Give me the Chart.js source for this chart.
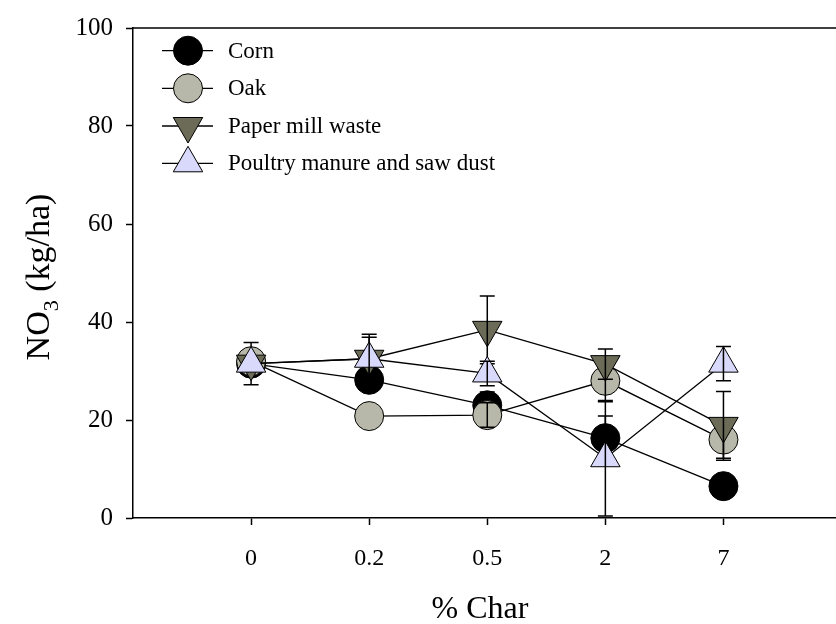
<!DOCTYPE html>
<html>
<head>
<meta charset="utf-8">
<script src="https://cdn.jsdelivr.net/npm/chart.js@4/dist/chart.umd.min.js"></script>
<style>
  html, body { margin: 0; padding: 0; background: #fff; overflow: hidden; }
  #wrap { width: 836px; height: 624px; overflow: hidden; }
  canvas { display: block; }
</style>
</head>
<body>
<div id="wrap"><canvas id="chart" width="856" height="624"></canvas></div>
<script>
// % char levels on the x axis
const charLevels = ['0', '0.2', '0.5', '2', '7'];

// NO3 (kg/ha) means
const corn = [31.5, 28.2, 23.0, 16.3, 6.5];
const oak = [32.0, 20.8, 21.0, 28.0, 16.0];
const paperMill = [31.5, 32.5, 38.4, 31.4, 18.8];
const poultry = [31.5, 32.5, 29.5, 12.2, 31.5];

// error bar half-lengths (0 = none visible)
const cornErr = [4.3, 0, 2.7, 4.5, 0];
const oakErr = [0, 0, 2.5, 4.3, 3.8];
const paperMillErr = [0, 5.0, 6.9, 3.1, 7.0];
const poultryErr = [0, 4.4, 2.5, 11.8, 3.5];

const yTicks = [0, 20, 40, 60, 80, 100];

const serif = '"Liberation Serif", "Times New Roman", serif';

function toPoints(values) {
  return values.map((v, i) => ({ x: i, y: v }));
}

function series(label, values, errors, fill, style, rotation, radius, order) {
  return {
    label: label,
    data: toPoints(values),
    errors: errors,
    borderColor: '#000',
    borderWidth: 1.3,
    pointStyle: style,
    pointRotation: rotation,
    pointRadius: radius,
    pointHoverRadius: radius,
    pointBackgroundColor: fill,
    pointBorderColor: '#000',
    pointBorderWidth: 1,
    showLine: true,
    fill: false,
    tension: 0,
    order: order
  };
}

// error bars, drawn right after each series
const errorBars = {
  id: 'errorBars',
  afterDatasetDraw(chart, args) {
    const ds = chart.data.datasets[args.index];
    if (!ds.errors) return;
    const ctx = chart.ctx;
    const yScale = chart.scales.y;
    const meta = args.meta;
    ctx.save();
    ctx.strokeStyle = '#000';
    ctx.lineWidth = 1.5;
    meta.data.forEach((pt, i) => {
      const e = ds.errors[i];
      if (!e) return;
      const v = ds.data[i].y;
      const top = yScale.getPixelForValue(v + e);
      const bot = yScale.getPixelForValue(Math.max(0, v - e));
      const x = pt.x;
      ctx.beginPath();
      ctx.moveTo(x, top);
      ctx.lineTo(x, bot);
      ctx.moveTo(x - 7.5, top);
      ctx.lineTo(x + 7.5, top);
      ctx.moveTo(x - 7.5, bot);
      ctx.lineTo(x + 7.5, bot);
      ctx.stroke();
    });
    ctx.restore();
  }
};

// titles, top frame line and legend
const decorations = {
  id: 'decorations',
  afterDraw(chart) {
    const ctx = chart.ctx;
    const area = chart.chartArea;
    ctx.save();

    // top frame
    ctx.strokeStyle = '#000';
    ctx.lineWidth = 1.5;
    ctx.beginPath();
    ctx.moveTo(area.left, area.top);
    ctx.lineTo(chart.width, area.top);
    ctx.stroke();

    // x title
    ctx.fillStyle = '#000';
    ctx.font = '32px ' + serif;
    ctx.textAlign = 'center';
    ctx.textBaseline = 'alphabetic';
    ctx.fillText('% Char', 480, 618);

    // y title with subscript
    ctx.translate(40, 277);
    ctx.rotate(-Math.PI / 2);
    const big = '34px ' + serif;
    const small = '22px ' + serif;
    ctx.font = big;
    const w1 = ctx.measureText('NO').width;
    const w3 = ctx.measureText(' (kg/ha)').width;
    ctx.font = small;
    const w2 = ctx.measureText('3').width;
    let x = -(w1 + w2 + w3) / 2;
    ctx.textAlign = 'left';
    ctx.textBaseline = 'middle';
    ctx.font = big;
    ctx.fillText('NO', x, 0);
    x += w1;
    ctx.font = small;
    ctx.fillText('3', x, 12);
    x += w2;
    ctx.font = big;
    ctx.fillText(' (kg/ha)', x, 0);
    ctx.restore();

    // legend
    ctx.save();
    const rows = [50.7, 88.3, 126, 163.3];
    chart.data.datasets.forEach((ds, i) => {
      const y = rows[i];
      ctx.strokeStyle = '#000';
      ctx.lineWidth = 1.3;
      ctx.beginPath();
      ctx.moveTo(162, y);
      ctx.lineTo(213, y);
      ctx.stroke();
      ctx.fillStyle = ds.pointBackgroundColor;
      ctx.strokeStyle = '#000';
      ctx.lineWidth = 1;
      Chart.helpers.drawPoint(ctx, {
        pointStyle: ds.pointStyle,
        rotation: ds.pointRotation,
        radius: ds.pointRadius,
        borderWidth: 1
      }, 188, y);
      ctx.fillStyle = '#000';
      ctx.font = '23px ' + serif;
      ctx.textAlign = 'left';
      ctx.textBaseline = 'middle';
      ctx.fillText(ds.label, 228, y + 1);
    });
    ctx.restore();
  }
};

new Chart(document.getElementById('chart'), {
  type: 'scatter',
  data: {
    datasets: [
      series('Corn', corn, cornErr, '#000000', 'circle', 0, 14.5, 4),
      series('Oak', oak, oakErr, '#b8b8aa', 'circle', 0, 14.5, 3),
      series('Paper mill waste', paperMill, paperMillErr, '#6b6b57', 'triangle', 180, 17, 2),
      series('Poultry manure and saw dust', poultry, poultryErr, '#d9d9fb', 'triangle', 0, 17, 1)
    ]
  },
  options: {
    responsive: false,
    animation: false,
    layout: { padding: { top: 27, right: 0, left: 0, bottom: 0 } },
    plugins: {
      legend: { display: false },
      tooltip: { enabled: false }
    },
    scales: {
      x: {
        type: 'linear',
        min: -1,
        max: 4.97,
        afterBuildTicks: (scale) => {
          scale.ticks = charLevels.map((c, i) => ({ value: i }));
        },
        afterFit: (scale) => { scale.height = 106; },
        ticks: {
          callback: (v) => charLevels[v],
          color: '#000',
          font: { family: serif, size: 24 },
          padding: 19,
          maxRotation: 0
        },
        grid: { drawOnChartArea: false, tickLength: 7, tickColor: '#000', tickWidth: 1.5 },
        border: { color: '#000', width: 1.5 }
      },
      y: {
        min: 0,
        max: 100,
        afterBuildTicks: (scale) => {
          scale.ticks = yTicks.map((v) => ({ value: v }));
        },
        afterFit: (scale) => { scale.width = 133; },
        ticks: {
          color: '#000',
          font: { family: serif, size: 25 },
          padding: 13
        },
        grid: { drawOnChartArea: false, tickLength: 7, tickColor: '#000', tickWidth: 1.5 },
        border: { color: '#000', width: 1.5 }
      }
    }
  },
  plugins: [errorBars, decorations]
});
</script>
</body>
</html>
